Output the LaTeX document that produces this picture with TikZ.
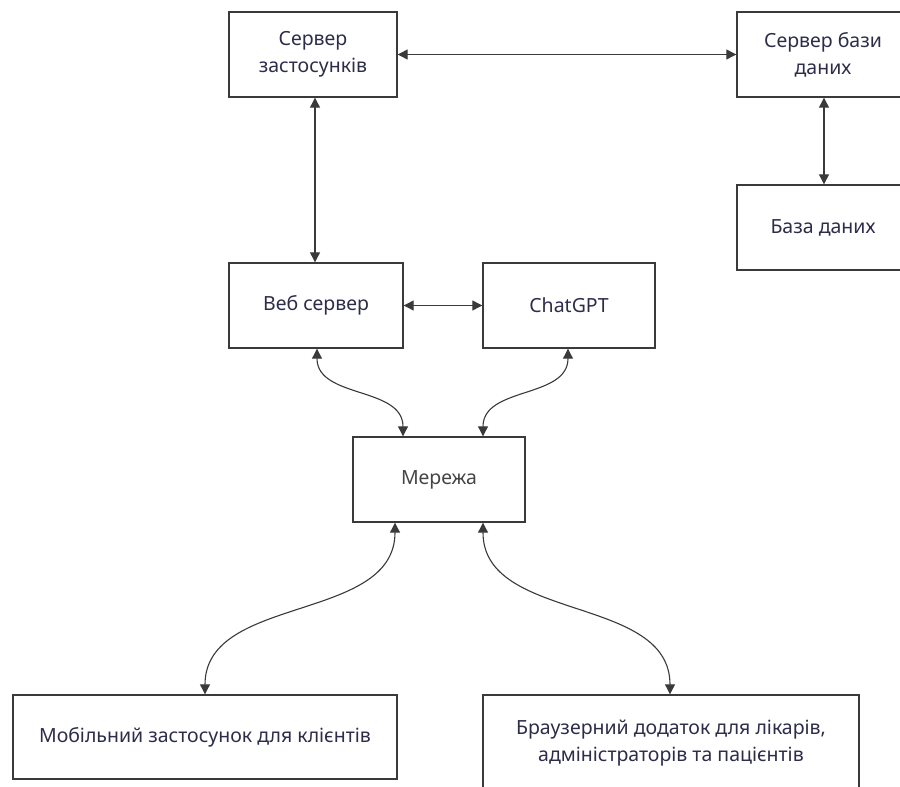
\documentclass[tikz,border=0pt]{standalone}
\usepackage{fontspec}
\setmainfont{Noto Sans}
\usetikzlibrary{arrows.meta,calc}
\definecolor{edge}{HTML}{3A3A3A}
\definecolor{txt}{HTML}{2D2D4A}
\definecolor{graytxt}{HTML}{454545}
\tikzset{
  blk/.style={draw=edge,line width=1.4pt,fill=white,rectangle,inner sep=2pt,
    minimum height=85pt,text=txt,font=\fontsize{19.5}{27}\selectfont,align=center},
  link/.style={draw=edge,line width=1.2pt,{Triangle[length=10pt,width=10pt]}-{Triangle[length=10pt,width=10pt]}},
  curvy/.style={draw=edge,line width=1.1pt,{Triangle[length=10pt,width=10pt]}-{Triangle[length=10pt,width=10pt]}}
}
\begin{document}
\begin{tikzpicture}[x=1pt,y=-1pt]
\useasboundingbox[fill=white] (0,0) rectangle (900,787);
\node[blk,minimum width=168pt] (app) at (313,54.5) {Сервер\\застосунків};
\node[blk,minimum width=172pt] (dbs) at (823,54.5) {Сервер бази\\даних};
\node[blk,minimum width=172pt] (db) at (823,227.5) {База даних};
\node[blk,minimum width=174pt] (web) at (316,305.5) {Веб сервер};
\node[blk,minimum width=172pt] (gpt) at (569,305.5) {ChatGPT};
\node[blk,minimum width=172pt,text=graytxt] (net) at (439,479.5) {Мережа};
\node[blk,minimum width=384pt,minimum height=84pt] (mob) at (205,737) {Мобільний застосунок для клієнтів};
\node[blk,minimum width=376pt,minimum height=96pt] (brw) at (671,743) {Браузерний додаток для лікарів,\\адміністраторів та пацієнтів};

\draw[link] (app.east) -- (dbs.west);
\draw[link] ([xshift=1pt]dbs.south) -- ([xshift=1pt]db.north);
\draw[link] ([xshift=2pt]app.south) -- ([xshift=-1pt]web.north);
\draw[link] (web.east) -- (gpt.west);

\draw[curvy] ([xshift=1pt]web.south) .. controls ([xshift=1pt,yshift=-50pt]web.south) and ([xshift=-36pt,yshift=50pt]net.north) .. ([xshift=-36pt]net.north);
\draw[curvy] ([xshift=-1pt]gpt.south) .. controls ([xshift=-1pt,yshift=-50pt]gpt.south) and ([xshift=44pt,yshift=50pt]net.north) .. ([xshift=44pt]net.north);
\draw[curvy] ([xshift=-44pt]net.south) .. controls ([xshift=-44pt,yshift=-100pt]net.south) and ([yshift=100pt]mob.north) .. (mob.north);
\draw[curvy] ([xshift=44pt]net.south) .. controls ([xshift=44pt,yshift=-100pt]net.south) and ([xshift=-1pt,yshift=100pt]brw.north) .. ([xshift=-1pt]brw.north);
\end{tikzpicture}
\end{document}
